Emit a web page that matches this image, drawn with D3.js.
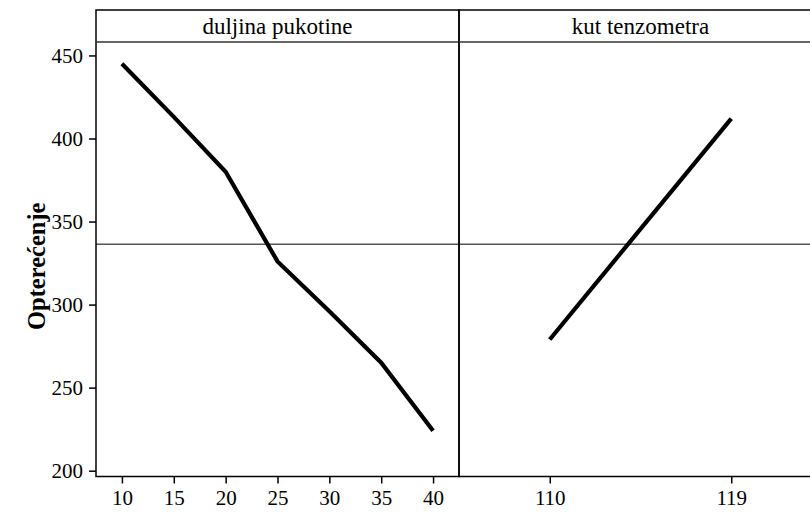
<!DOCTYPE html>
<html>
<head>
<meta charset="utf-8">
<script src="https://cdn.jsdelivr.net/npm/d3@7"></script>
<style>
  html, body { margin: 0; padding: 0; background: #fff; }
  svg { display: block; font-family: "Liberation Serif", "Times New Roman", serif; }
</style>
</head>
<body>
<svg id="chart" width="810" height="512"></svg>
<script>
// ---- data ----
const panelTitles = ["duljina pukotine", "kut tenzometra"];
const crackLengths = [10, 15, 20, 25, 30, 35, 40];
const crackMeans = [445, 413, 380, 326, 296, 265, 224];
const gaugeAngles = [110, 119];
const gaugeMeans = [279, 412];
const yTicks = [200, 250, 300, 350, 400, 450];
const grandMean = 336.3;
const yTitle = "Opterećenje";

(function () {
  // ---- layout ----
  const svg = d3.select("#chart");
  const frameTop = 10, stripH = 32, plotBottom = 476.5;
  const plotTop = frameTop + stripH;
  const plotLeft = 96, panelW = 363;

  const y = d3.scaleLinear().domain([196.5, 458.1]).range([plotBottom, plotTop]);

  const panels = [
    { title: panelTitles[0], xs: crackLengths, ys: crackMeans, domain: [7.5, 42.5] },
    { title: panelTitles[1], xs: gaugeAngles, ys: gaugeMeans, domain: [105.5, 123.5] }
  ];

  panels.forEach((p, i) => {
    const x0 = plotLeft + i * panelW;
    const x = d3.scaleLinear().domain(p.domain).range([x0, x0 + panelW]);
    const g = svg.append("g");

    // reference line (grand mean)
    g.append("line")
      .attr("x1", x0).attr("x2", x0 + panelW)
      .attr("y1", y(grandMean)).attr("y2", y(grandMean))
      .attr("stroke", "#555").attr("stroke-width", 1.5);

    // data line
    const line = d3.line().x(d => x(d[0])).y(d => y(d[1]));
    g.append("path")
      .datum(p.xs.map((v, k) => [v, p.ys[k]]))
      .attr("d", line)
      .attr("fill", "none")
      .attr("stroke", "#000")
      .attr("stroke-width", 4.2)
      .attr("stroke-linejoin", "miter");

    // panel frame
    g.append("rect")
      .attr("x", x0).attr("y", frameTop)
      .attr("width", panelW).attr("height", plotBottom - frameTop)
      .attr("fill", "none").attr("stroke", "#000").attr("stroke-width", 1.5);
    // strip separator
    g.append("line")
      .attr("x1", x0).attr("x2", x0 + panelW)
      .attr("y1", plotTop).attr("y2", plotTop)
      .attr("stroke", "#333").attr("stroke-width", 1.5);
    // strip title
    g.append("text")
      .attr("x", x0 + panelW / 2).attr("y", frameTop + 24)
      .attr("text-anchor", "middle")
      .attr("font-size", 23)
      .attr("fill", "#000")
      .text(p.title);

    // x axis
    const xAxis = d3.axisBottom(x).tickValues(p.xs).tickSize(7).tickPadding(7).tickFormat(d3.format("d"));
    const ax = svg.append("g").attr("transform", `translate(0,${plotBottom})`).call(xAxis);
    ax.select(".domain").remove();
    ax.selectAll(".tick line").attr("stroke", "#000").attr("stroke-width", 1.5);
    ax.selectAll(".tick text").attr("font-size", 21).attr("fill", "#000")
      .attr("font-family", "Liberation Serif, serif");
  });

  // y axis
  const yAxis = d3.axisLeft(y).tickValues(yTicks).tickSize(7).tickPadding(6);
  const ay = svg.append("g").attr("transform", `translate(${plotLeft},0)`).call(yAxis);
  ay.select(".domain").remove();
  ay.selectAll(".tick line").attr("stroke", "#000").attr("stroke-width", 1.5);
  ay.selectAll(".tick text").attr("font-size", 21).attr("fill", "#000")
    .attr("font-family", "Liberation Serif, serif");

  // y title
  svg.append("text")
    .attr("transform", `translate(45,${(plotTop + plotBottom) / 2 + 7}) rotate(-90)`)
    .attr("text-anchor", "middle")
    .attr("font-size", 24.5)
    .attr("font-weight", "bold")
    .attr("fill", "#000")
    .text(yTitle);
})();
</script>
</body>
</html>
